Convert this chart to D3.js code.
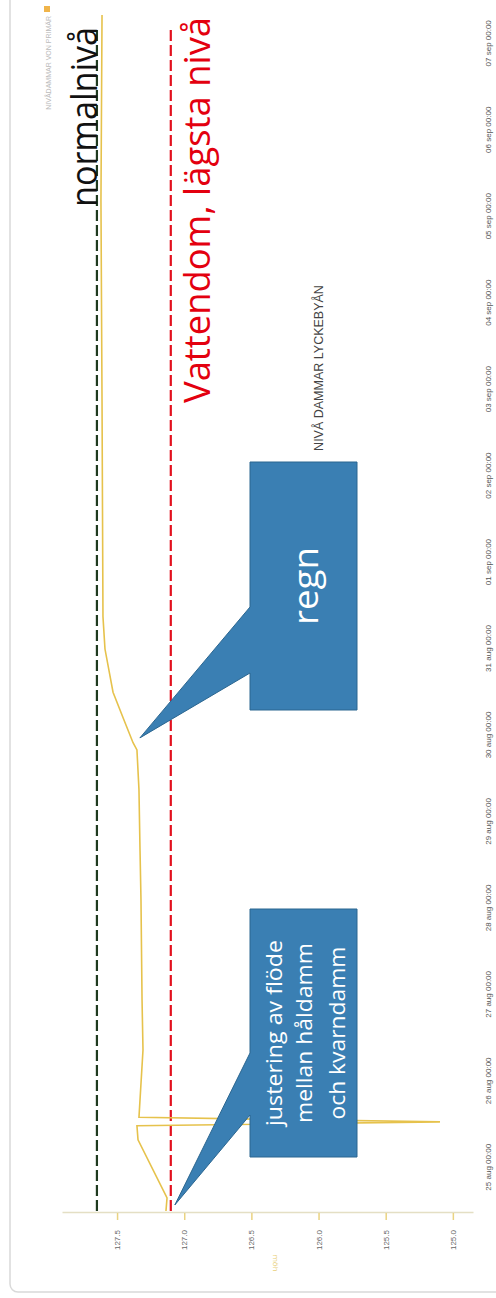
<!DOCTYPE html>
<html>
<head>
<meta charset="utf-8">
<script src="https://cdn.jsdelivr.net/npm/d3@7"></script>
<style>
  body { margin: 0; background: #fff; }
  svg { font-family: 'Open Sans', sans-serif; }
</style>
</head>
<body>
<svg id="chart" width="496" height="1298"></svg>
<script>
// level readings
const times = [
  '2018-08-24 12:00', '2018-08-24 15:40', '2018-08-25 07:45', '2018-08-25 11:40',
  '2018-08-25 12:45', '2018-08-25 14:00', '2018-08-26 08:40', '2018-08-26 22:30',
  '2018-08-28 02:30', '2018-08-28 16:00', '2018-08-29 09:00', '2018-08-29 20:00',
  '2018-08-29 22:00', '2018-08-30 05:00', '2018-08-30 12:00', '2018-08-31 00:00',
  '2018-08-31 09:00', '2018-09-02 21:00', '2018-09-05 04:30', '2018-09-07 08:00'
]
const levels = [
  127.136, 127.128, 127.344, 127.352,
  125.096, 127.337, 127.307, 127.314,
  127.322, 127.329, 127.337, 127.352,
  127.381, 127.456, 127.53, 127.59,
  127.605, 127.612, 127.62, 127.612
]
const dayTicks = [
  '2018-08-25 00:00', '2018-08-26 00:00', '2018-08-27 00:00', '2018-08-28 00:00',
  '2018-08-29 00:00', '2018-08-30 00:00', '2018-08-31 00:00', '2018-09-01 00:00',
  '2018-09-02 00:00', '2018-09-03 00:00', '2018-09-04 00:00', '2018-09-05 00:00',
  '2018-09-06 00:00', '2018-09-07 00:00'
]
const valueTicks = [127.5, 127.0, 126.5, 126.0, 125.5, 125.0]
const normalLevel = 127.65
const lowestLevel = 127.10

const parse = d3.timeParse('%Y-%m-%d %H:%M')
const sv = d3.timeFormatLocale({
  dateTime: '%A %e %B %Y %X', date: '%Y-%m-%d', time: '%H:%M:%S', periods: ['fm', 'em'],
  days: ['söndag', 'måndag', 'tisdag', 'onsdag', 'torsdag', 'fredag', 'lördag'],
  shortDays: ['sön', 'mån', 'tis', 'ons', 'tor', 'fre', 'lör'],
  months: ['januari', 'februari', 'mars', 'april', 'maj', 'juni', 'juli', 'augusti', 'september', 'oktober', 'november', 'december'],
  shortMonths: ['jan', 'feb', 'mar', 'apr', 'maj', 'jun', 'jul', 'aug', 'sep', 'okt', 'nov', 'dec']
})

let data = times.map((t, i) => ({ t: parse(t), v: levels[i] }))

const svg = d3.select('#chart')

// frame of the scanned chart
svg.append('rect')
  .attr('x', 10).attr('y', -20).attr('width', 530).attr('height', 1312)
  .attr('rx', 8)
  .attr('fill', 'none').attr('stroke', '#d9d9d9').attr('stroke-width', 1.5)

// the whole chart is turned a quarter left, like the scan
const W = 1298
const g = svg.append('g').attr('transform', `translate(0,${W}) rotate(-90)`)

let x = d3.scaleTime()
  .domain([parse('2018-08-24 12:00'), parse('2018-09-07 08:00')])
  .range([87, 1283])

let y = d3.scaleLinear()
  .domain([124.85, 127.91])
  .range([473, 62])

// value axis
const yAxis = g.append('g')
  .attr('transform', 'translate(85,0)')
  .call(d3.axisLeft(y).tickValues(valueTicks).tickFormat(d3.format('.1f'))
    .tickSize(7).tickPadding(10).tickSizeOuter(0))
yAxis.select('.domain').attr('stroke', '#e4dfc4').attr('stroke-width', 1.5)
yAxis.selectAll('.tick line').attr('stroke', '#ead382').attr('stroke-width', 1.5)
yAxis.selectAll('.tick text').attr('fill', '#666').style('font-size', '8px')
  .style('font-family', 'Liberation Sans, Arial, sans-serif')

g.append('text')
  .attr('x', 35).attr('y', 273)
  .attr('text-anchor', 'middle')
  .attr('transform', 'rotate(180,35,273)')
  .attr('fill', '#e8cf7a')
  .style('font-size', '8px')
  .text('möh')

// time axis
const xAxis = g.append('g')
  .attr('transform', 'translate(0,473)')
  .call(d3.axisBottom(x).tickValues(dayTicks.map(parse)).tickFormat(sv.format('%d %b %H:%M'))
    .tickSize(0).tickPadding(12))
xAxis.select('.domain').remove()
xAxis.selectAll('.tick text').attr('fill', '#555').style('font-size', '8px')
  .style('font-family', 'Liberation Sans, Arial, sans-serif')

// title and legend
g.append('text')
  .attr('x', W - 368).attr('y', 323)
  .attr('text-anchor', 'middle')
  .attr('fill', '#444')
  .style('font-size', '12.5px')
  .style('font-family', 'Liberation Sans, Arial, sans-serif')
  .text('NIVÅ DAMMAR LYCKEBYÅN')

g.append('rect')
  .attr('x', W - 12).attr('y', 44).attr('width', 6).attr('height', 6)
  .attr('fill', '#f0b44a')
g.append('text')
  .attr('x', W - 16).attr('y', 51)
  .attr('text-anchor', 'end')
  .attr('fill', '#bbb')
  .style('font-size', '7px')
  .style('font-family', 'Liberation Sans, Arial, sans-serif')
  .text('NIVÅDAMMAR VON PRIMÄR')

// level lines
const tEnd = parse('2018-09-07 04:20')
g.append('line')
  .attr('x1', x.range()[0]).attr('x2', x(tEnd))
  .attr('y1', y(normalLevel)).attr('y2', y(normalLevel))
  .attr('stroke', '#1f3a1f').attr('stroke-width', 2.2).attr('stroke-dasharray', '11,4')
g.append('line')
  .attr('x1', x.range()[0]).attr('x2', x(tEnd))
  .attr('y1', y(lowestLevel)).attr('y2', y(lowestLevel))
  .attr('stroke', '#e2101e').attr('stroke-width', 2.2).attr('stroke-dasharray', '11,4')

// measured level
const line = d3.line().x(d => x(d.t)).y(d => y(d.v))
g.append('path')
  .datum(data)
  .attr('d', line)
  .attr('fill', 'none')
  .attr('stroke', '#e6c24c')
  .attr('stroke-width', 1.6)

// texts for the level lines
g.append('text')
  .attr('x', W - 117).attr('y', 97)
  .attr('text-anchor', 'middle')
  .attr('fill', '#111')
  .attr('textLength', 180).attr('lengthAdjust', 'spacingAndGlyphs')
  .style('font-size', '37px')
  .text('normalnivå')
g.append('text')
  .attr('x', W - 210).attr('y', 210)
  .attr('text-anchor', 'middle')
  .attr('fill', '#e3000f')
  .attr('textLength', 386).attr('lengthAdjust', 'spacingAndGlyphs')
  .style('font-size', '37px')
  .text('Vattendom, lägsta nivå')

// callouts
function callout(x0, x1, b0, b1, tip) {
  let p = d3.path()
  p.moveTo(x0, 250)
  p.lineTo(b0, 250)
  p.lineTo(tip[0], tip[1])
  p.lineTo(b1, 250)
  p.lineTo(x1, 250)
  p.lineTo(x1, 357)
  p.lineTo(x0, 357)
  p.closePath()
  g.append('path')
    .attr('d', p.toString())
    .attr('fill', '#3a7fb3')
    .attr('stroke', '#2b6690')
    .attr('stroke-width', 1)
}

callout(141, 389, 183, 245, [x(parse('2018-08-24 13:40')), y(127.07)])
let notes = [
  { text: 'justering av flöde', base: 282, len: 186 },
  { text: 'mellan håldamm', base: 312, len: 180 },
  { text: 'och kvarndamm', base: 345, len: 173 }
]
notes.forEach(n => {
  g.append('text')
    .attr('x', 265).attr('y', n.base)
    .attr('text-anchor', 'middle')
    .attr('fill', '#fff')
    .attr('textLength', n.len).attr('lengthAdjust', 'spacingAndGlyphs')
    .style('font-size', '21px')
    .text(n.text)
})

callout(588, 836, 625, 691, [x(parse('2018-08-29 23:20')), y(127.33)])
g.append('text')
  .attr('x', W - 586).attr('y', 318)
  .attr('text-anchor', 'middle')
  .attr('fill', '#fff')
  .attr('textLength', 78).attr('lengthAdjust', 'spacingAndGlyphs')
  .style('font-size', '34px')
  .text('regn')
</script>
</body>
</html>
